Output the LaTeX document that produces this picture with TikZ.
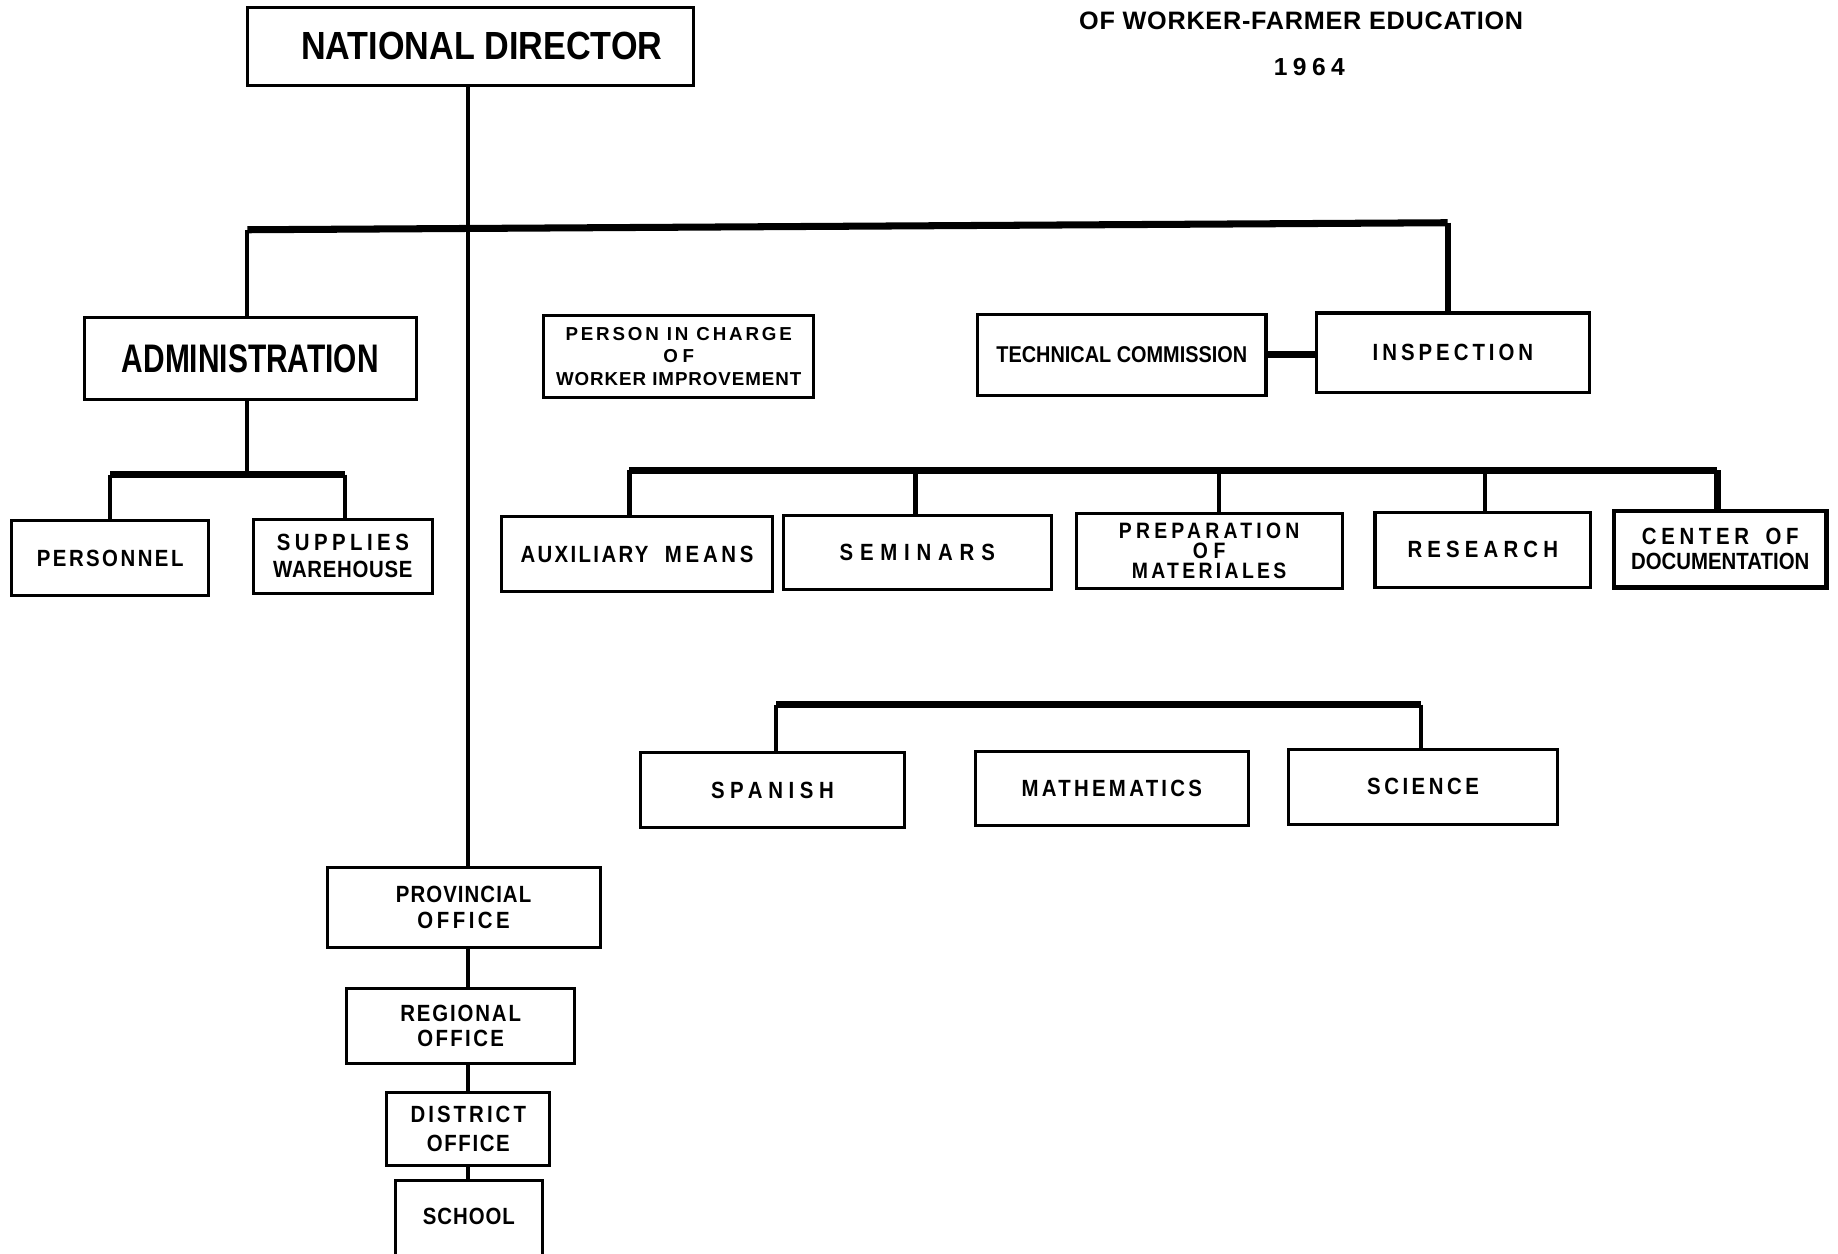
\documentclass[tikz,border=0pt]{standalone}
\usepackage{fontspec}
\newfontfamily\fN{Liberation Sans}[FakeStretch=0.87]
\newfontfamily\fC{Liberation Sans}[FakeStretch=0.75]
\newfontfamily\fW{Liberation Sans}
\newcommand\lsp[2]{{\addfontfeature{LetterSpace=#1}#2}}
\tikzset{
  box/.style={draw, line width=2.6pt, inner sep=0pt, align=center,
    font=\fN\bfseries\fontsize{20}{23}\selectfont},
  conn/.style={line width=3.6pt},
  bus/.style={line width=6pt, line cap=square},
}
\begin{document}
\begin{tikzpicture}[x=1pt, y=-1pt]
\useasboundingbox (0,0) rectangle (1568,1069);
\fill[white] (0,0) rectangle (1568,1069);

% title
\node[font=\fW\bfseries\fontsize{21.5}{24}\selectfont] (t1) at (1110,18) {\lsp{3}{OF WORKER-FARMER EDUCATION}};
\node[font=\fW\bfseries\fontsize{21}{24}\selectfont] (t2) at (1117,57) {\lsp{22}{1964}};

% boxes
\node[box, minimum width=381pt, minimum height=67pt, font=\fN\bfseries\fontsize{33.5}{36}\selectfont] (nd) at (401.5,39.5) {\hspace*{19pt}NATIONAL DIRECTOR};
\node[box, minimum width=283pt, minimum height=70pt, font=\fC\bfseries\fontsize{34}{36}\selectfont] (adm) at (213.5,306) {ADMINISTRATION};
\node[box, minimum width=230pt, minimum height=70pt, font=\fW\bfseries\fontsize{16}{19}\selectfont] (pic) at (579,304) {\lsp{15}{PERSON IN CHARGE}\\\lsp{25}{OF}\\\lsp{5}{WORKER IMPROVEMENT}};
\node[box, minimum width=246pt, minimum height=69pt, font=\fN\bfseries\fontsize{19.5}{22}\selectfont] (tech) at (957,302.5) {TECHNICAL COMMISSION};
\node[box, minimum width=233pt, minimum height=68pt] (insp) at (1239.5,301) {\lsp{17}{INSPECTION}};

\node[box, minimum width=168pt, minimum height=64pt] (pers) at (94,476) {\lsp{10.5}{PERSONNEL}};
\node[box, minimum width=153pt, minimum height=63pt] (supp) at (292.5,474.5) {\lsp{19}{SUPPLIES}\\\lsp{3}{WAREHOUSE}};

\node[box, minimum width=231pt, minimum height=64pt] (aux) at (543.5,473) {\lsp{10}{AUXILIARY}\hskip 14pt \lsp{16}{MEANS}};
\node[box, minimum width=229pt, minimum height=63pt] (sem) at (782.5,471.5) {\lsp{29}{SEMINARS}};
\node[box, minimum width=227pt, minimum height=64pt, font=\fN\bfseries\fontsize{19}{17}\selectfont] (prep) at (1031.5,470) {\lsp{19}{PREPARATION}\\\lsp{25}{OF}\\\lsp{15}{MATERIALES}};
\node[box, minimum width=184pt, minimum height=64pt] (res) at (1265,469) {\lsp{22}{RESEARCH}};
\node[box, line width=4pt, minimum width=181pt, minimum height=65pt, font=\fN\bfseries\fontsize{20}{21}\selectfont] (cen) at (1467.5,468.5) {\lsp{20}{CENTER}\hskip 14pt \lsp{20}{OF}\\DOCUMENTATION};

\node[box, minimum width=226pt, minimum height=64pt] (span) at (659,674) {\lsp{24}{SPANISH}};
\node[box, minimum width=233pt, minimum height=63pt] (math) at (948.5,672.5) {\lsp{14}{MATHEMATICS}};
\node[box, minimum width=230pt, minimum height=64pt] (sci) at (1214,671) {\lsp{15}{SCIENCE}};

\node[box, minimum width=233pt, minimum height=68pt, font=\fN\bfseries\fontsize{20}{22}\selectfont] (prov) at (395.5,774) {\lsp{4.5}{PROVINCIAL}\\\lsp{15}{OFFICE}};
\node[box, minimum width=194pt, minimum height=64pt, font=\fN\bfseries\fontsize{20}{21}\selectfont] (reg) at (393,875) {\lsp{8}{REGIONAL}\\\lsp{10}{OFFICE}};
\node[box, minimum width=139pt, minimum height=62pt, font=\fN\bfseries\fontsize{20}{25}\selectfont] (dist) at (399.5,963) {\lsp{13}{DISTRICT}\\\lsp{7}{OFFICE}};
\node[box, anchor=base, minimum width=126pt, text height=38pt, text depth=40pt] (school) at (400,1045) {\lsp{4}{SCHOOL}};

% trunk
\coordinate (tk) at (399,0);
\draw[conn] (nd.south -| tk) -- (prov.north -| tk);
\draw[conn] (prov.south -| tk) -- (reg.north -| tk);
\draw[conn] (reg.south -| tk) -- (dist.north -| tk);
\draw[conn] (dist.south -| tk) -- (school.north -| tk);

% main bus
\coordinate (b1l) at (211,196);
\coordinate (b1r) at (1235,190);
\draw[bus] (b1l) -- (b1r);
\draw[conn] (b1l) -- (adm.north -| b1l);
\draw[line width=5pt] (b1r) -- (insp.north -| b1r);
\draw[bus, line cap=butt] (tech.east) -- (tech.east -| insp.west);

% administration subtree
\coordinate (b2) at (211,405);
\coordinate (b2l) at (94,405);
\coordinate (b2r) at (294,405);
\draw[conn] (adm.south -| b2) -- (b2);
\draw[bus] (b2l) -- (b2r);
\draw[conn] (b2l) -- (pers.north -| b2l);
\draw[conn] (b2r) -- (supp.north -| b2r);

% technical subtree
\coordinate (c1) at (537,401);
\coordinate (c2) at (781,401);
\coordinate (c3) at (1040,401);
\coordinate (c4) at (1267,401);
\coordinate (c5) at (1465,401);
\draw[bus] (c1) -- (c5);
\draw[conn] (c1) -- (aux.north -| c1);
\draw[conn] (c2) -- (sem.north -| c2);
\draw[conn] (c3) -- (prep.north -| c3);
\draw[conn] (c4) -- (res.north -| c4);
\draw[line width=6pt] (c5) -- (cen.north -| c5);

% subjects subtree
\coordinate (e1) at (662,601);
\coordinate (e2) at (1212,601);
\draw[bus] (e1) -- (e2);
\draw[conn] (e1) -- (span.north -| e1);
\draw[conn] (e2) -- (sci.north -| e2);
\end{tikzpicture}
\end{document}
